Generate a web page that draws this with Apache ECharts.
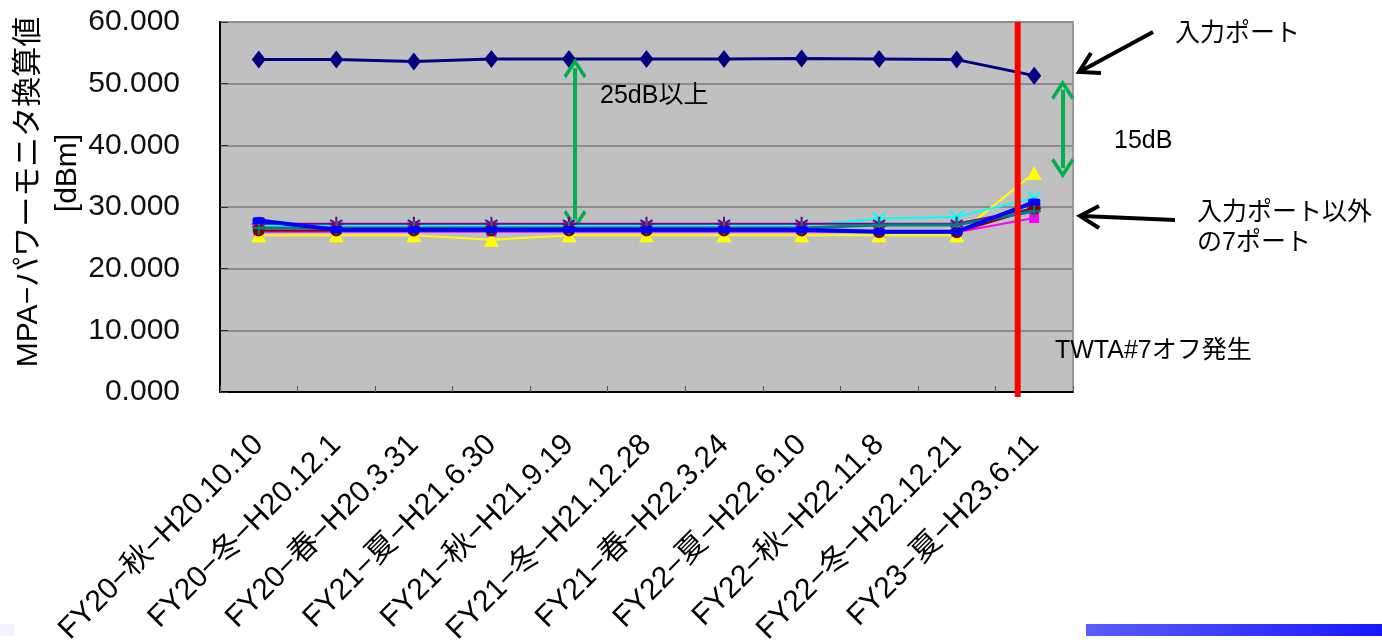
<!DOCTYPE html>
<html>
<head>
<meta charset="utf-8">
<script src="https://cdn.jsdelivr.net/npm/echarts@6/dist/echarts.min.js"></script>
<style>
html,body{margin:0;padding:0;background:#fff;}
#c{width:1382px;height:642px;}
</style>
</head>
<body>
<div id="c"></div>
<script>
// ---- data ----
var categories = ["FY20−秋−H20.10.10","FY20−冬−H20.12.1","FY20−春−H20.3.31","FY21−夏−H21.6.30","FY21−秋−H21.9.19","FY21−冬−H21.12.28","FY21−春−H22.3.24","FY22−夏−H22.6.10","FY22−秋−H22.11.8","FY22−冬−H22.12.21","FY23−夏−H23.6.11"];
var inputPort = [53.9, 53.9, 53.6, 54.0, 54.0, 54.0, 54.0, 54.1, 54.0, 53.9, 51.3];
var port2 = [26.0, 26.0, 26.0, 26.0, 26.0, 26.0, 26.0, 26.0, 25.9, 25.9, 28.2];
var port3 = [25.4, 25.4, 25.4, 24.7, 25.4, 25.4, 25.4, 25.4, 25.4, 25.4, 35.5];
var port4 = [27.0, 27.0, 27.0, 27.0, 27.0, 27.0, 27.0, 27.0, 28.1, 28.4, 31.5];
var port5 = [27.3, 27.3, 27.3, 27.3, 27.3, 27.3, 27.3, 27.3, 27.3, 27.3, 29.8];
var port6 = [26.2, 26.2, 26.2, 26.2, 26.2, 26.2, 26.2, 26.2, 25.9, 25.9, 29.7];
var port7 = [26.6, 26.6, 26.6, 26.6, 26.6, 26.6, 26.6, 26.6, 27.1, 27.1, 29.3];
var port8 = [27.8, 26.3, 26.3, 26.3, 26.3, 26.3, 26.3, 26.3, 26.0, 26.0, 30.8];
var yTicks = {min: 0, max: 60, interval: 10};
// annotation positions in category-index units / dB
var twtaOffAt = 9.787;
var arrow25 = {x: 4.078, from: 52.5, to: 27.9};
var arrow15 = {x: 10.367, from: 49.0, to: 36.3};

var FONT = '"Liberation Sans", Arial, "Noto Sans CJK JP", sans-serif';
var chevron = 'path://M0 0 L11.5 17.5 L8.8 20 L0 6.5 L-8.8 20 L-11.5 17.5 Z';

var chart = echarts.init(document.getElementById('c'));

function strokeSym(color){
  return {color: color, borderColor: color, borderWidth: 2};
}

var option = {
  animation: false,
  backgroundColor: '#ffffff',
  grid: {left: 220, right: 309, top: 22, bottom: 250, outerBoundsMode: 'none', containLabel: false,
    show: true, backgroundColor: '#c0c0c0', borderColor: '#9a9a9a', borderWidth: 2},
  xAxis: [{
    type: 'category',
    data: categories,
    boundaryGap: true,
    axisLine: {onZero: false, lineStyle: {color: '#000', width: 2}},
    axisTick: {show: true, inside: true, length: 6, interval: 0, lineStyle: {color: '#555', width: 1}},
    axisLabel: {rotate: 45, interval: 0, fontSize: 30, fontFamily: FONT, color: '#000', margin: 48},
    splitLine: {show: false}
  }, {
    type: 'value', min: -0.5, max: 10.5, show: false
  }],
  yAxis: [{
    type: 'value',
    min: yTicks.min, max: yTicks.max, interval: yTicks.interval,
    axisLine: {show: true, onZero: false, lineStyle: {color: '#000', width: 2}},
    axisTick: {show: true, inside: true, length: 8, lineStyle: {color: '#333', width: 1}},
    axisLabel: {formatter: function(v){return v.toFixed(3);}, fontSize: 30, fontFamily: FONT, color: '#111', margin: 40},
    splitLine: {show: true, lineStyle: {color: '#8c8c8c', width: 2}}
  }],
  series: [
    {name: '入力ポート', type: 'line', data: inputPort, symbol: 'diamond', symbolSize: [14, 18],
      lineStyle: {color: '#000080', width: 3}, itemStyle: {color: '#000080'}, z: 2},
    {name: 'p2', type: 'line', data: port2, symbol: 'rect', symbolSize: 10,
      lineStyle: {color: '#ff00ff', width: 2}, itemStyle: {color: '#ff00ff'}, z: 3},
    {name: 'p3', type: 'line', data: port3, symbol: 'triangle', symbolSize: [15, 14],
      lineStyle: {color: '#ffff00', width: 2}, itemStyle: {color: '#ffff00'}, z: 4},
    {name: 'p4', type: 'line', data: port4, symbol: 'path://M-5 -5 L5 5 M-5 5 L5 -5', symbolSize: 13,
      lineStyle: {color: '#00ffff', width: 2}, itemStyle: strokeSym('#00ffff'), z: 5},
    {name: 'p5', type: 'line', data: port5, symbol: 'path://M0 -6 L0 6 M-5.2 -3 L5.2 3 M-5.2 3 L5.2 -3 M-6 0 L6 0', symbolSize: 14,
      lineStyle: {color: '#800080', width: 2}, itemStyle: strokeSym('#800080'), z: 6},
    {name: 'p6', type: 'line', data: port6, symbol: 'circle', symbolSize: 12,
      lineStyle: {color: '#800000', width: 2}, itemStyle: {color: '#800000'}, z: 7},
    {name: 'p7', type: 'line', data: port7, symbol: 'path://M0 -6 L0 6 M-6 0 L6 0', symbolSize: 13,
      lineStyle: {color: '#008080', width: 3}, itemStyle: strokeSym('#008080'), z: 8},
    {name: 'p8', type: 'line', data: port8, symbol: 'roundRect', symbolSize: [12, 7],
      lineStyle: {color: '#0000ff', width: 4}, itemStyle: {color: '#0000ff'}, z: 9},
    {name: 'TWTA', type: 'line', xAxisIndex: 1, yAxisIndex: 0, clip: false, silent: true,
      data: [[twtaOffAt, yTicks.max], [twtaOffAt, -0.8]], symbol: 'none',
      lineStyle: {color: '#ff0000', width: 6}, z: 10,
      markLine: {
        silent: true, symbol: [chevron, chevron], symbolSize: [23, 20],
        lineStyle: {color: '#00b04f', width: 4, type: 'solid'},
        label: {show: false},
        data: [
          [{coord: [arrow25.x, arrow25.from]}, {coord: [arrow25.x, arrow25.to]}],
          [{coord: [arrow15.x, arrow15.from]}, {coord: [arrow15.x, arrow15.to]}]
        ]
      }
    }
  ],
  graphic: [
    {type: 'text', x: 29, y: 192, rotation: Math.PI / 2,
      style: {text: 'MPA−パワーモニタ換算値', font: '30px ' + FONT, fill: '#000', textAlign: 'center', textVerticalAlign: 'middle'}},
    {type: 'text', x: 68, y: 173, rotation: Math.PI / 2,
      style: {text: '[dBm]', font: '30px ' + FONT, fill: '#000', textAlign: 'center', textVerticalAlign: 'middle'}},
    {type: 'text', x: 600, y: 96, style: {text: '25dB以上', font: '25px ' + FONT, fill: '#000', textVerticalAlign: 'middle'}, z: 20},
    {type: 'text', x: 1114, y: 141, style: {text: '15dB', font: '25px ' + FONT, fill: '#000', textVerticalAlign: 'middle'}},
    {type: 'text', x: 1175, y: 34, style: {text: '入力ポート', font: '25px ' + FONT, fill: '#000', textVerticalAlign: 'middle'}},
    {type: 'text', x: 1197, y: 213, style: {text: '入力ポート以外', font: '25px ' + FONT, fill: '#000', textVerticalAlign: 'middle'}},
    {type: 'text', x: 1197, y: 243, style: {text: 'の7ポート', font: '25px ' + FONT, fill: '#000', textVerticalAlign: 'middle'}},
    {type: 'text', x: 1055, y: 351, style: {text: 'TWTA#7オフ発生', font: '25px ' + FONT, fill: '#000', textVerticalAlign: 'middle'}, z: 20},
    {type: 'line', shape: {x1: 1153, y1: 32, x2: 1081, y2: 71}, style: {stroke: '#000', lineWidth: 4}},
    {type: 'polyline', shape: {points: [[1091, 53], [1079, 72], [1101, 73]]}, style: {stroke: '#000', lineWidth: 4, fill: null}},
    {type: 'line', shape: {x1: 1175, y1: 220, x2: 1082, y2: 216}, style: {stroke: '#000', lineWidth: 4}},
    {type: 'polyline', shape: {points: [[1099, 206], [1080, 216], [1099, 228]]}, style: {stroke: '#000', lineWidth: 4, fill: null}},
    {type: 'rect', shape: {x: 0, y: 624, width: 14, height: 12}, style: {fill: '#f2f2ff'}},
    {type: 'rect', shape: {x: 1086, y: 624, width: 296, height: 12},
      style: {fill: new echarts.graphic.LinearGradient(0, 0, 1, 0, [{offset: 0, color: '#5c5cff'}, {offset: 1, color: '#1818ff'}])}}
  ]
};
chart.setOption(option);
</script>
</body>
</html>
